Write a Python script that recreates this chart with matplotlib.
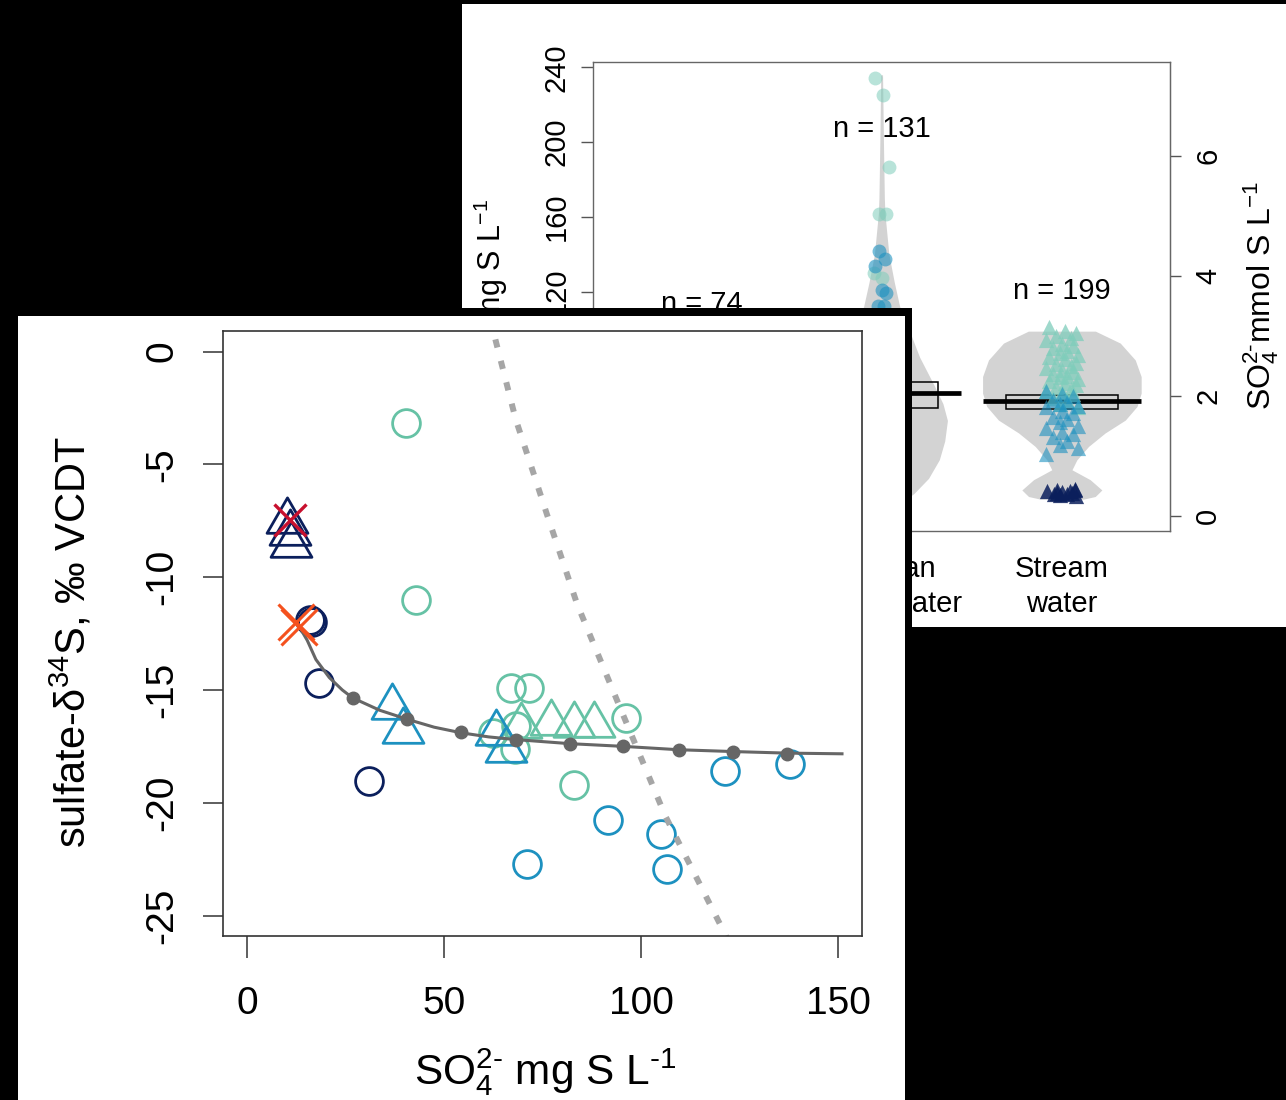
import numpy as np
import matplotlib
matplotlib.use('Agg')
import matplotlib.pyplot as plt
from matplotlib.patches import Rectangle
from matplotlib.path import Path

plt.rcParams['font.family'] = ['Liberation Sans', 'DejaVu Sans']
plt.rcParams['mathtext.fontset'] = 'custom'
plt.rcParams['mathtext.rm'] = 'Liberation Sans'
plt.rcParams['mathtext.it'] = 'Liberation Sans:italic'
plt.rcParams['mathtext.bf'] = 'Liberation Sans:bold'

W, H = 1286, 1100   # output size in pixels (dpi 100)

# ---------------- back panel (violins) ----------------
groups = ['Hillslope\ngroundwater', 'Riparian\ngroundwater', 'Stream\nwater']
n_labels = ['n = 74', 'n = 131', 'n = 199']
mg_per_mmol = 32.06

# violin outlines: level (mg S/L) and half width (group units)
rip_violin_mg = [4, 6, 12, 20, 30, 40, 51, 60, 70, 85, 100, 112, 125, 140, 150, 162, 170, 200, 236]
rip_violin_hw = [0.0, 0.10, 0.18, 0.26, 0.32, 0.35, 0.365, 0.34, 0.29, 0.21, 0.15, 0.10, 0.07, 0.04, 0.03, 0.018, 0.015, 0.01, 0.005]
stream_violin_mg = [8.9, 10.3, 13.8, 19.3, 24.6, 29.9, 37.1, 44.3, 51.2, 58.5, 65.6, 74.5, 83.4, 92.4, 98.8]
stream_violin_hw = [0.12, 0.185, 0.222, 0.157, 0.056, 0.083, 0.148, 0.24, 0.352, 0.417, 0.44, 0.44, 0.407, 0.324, 0.186]

# boxes: q1, median, q3 (mg S/L)
rip_box = (57.6, 65.7, 71.4)
stream_box = (57.3, 61.2, 64.8)

# riparian groundwater points (mg S/L)
rip_teal = [234.5, 225.0, 186.7, 161.7, 161.7, 130.0, 127.0]
rip_blue = [141.5, 137.6, 133.5, 121.0, 119.2, 112.0, 112.0]

# stream water points (mg S/L)
stream_teal = [101, 99, 98, 96, 95, 94, 92, 91, 90, 88, 87, 86, 85, 84, 82, 81, 80, 79,
               78, 77, 76, 75, 74, 73, 72, 71, 70, 69, 68, 67, 66, 65, 63, 62, 60, 58]
stream_blue = [67, 65, 64, 62, 61, 60, 59, 58, 56, 55, 53, 52, 50, 48, 47, 45, 44, 42, 40, 38, 36, 33]
stream_navy = [14.5, 14.0, 13.4, 13.0, 12.6, 12.2, 11.8, 11.4, 11.0, 10.6, 13.7, 12.4]

# ---------------- front panel (d34S vs sulfate) ----------------
teal_circ_x = [40.4, 43.0, 66.9, 71.5, 96.1, 83.0, 62.5, 68.2, 68.0]
teal_circ_y = [-3.16, -11.0, -14.9, -14.9, -16.24, -19.2, -16.9, -16.6, -17.6]
teal_tri_x = [69.5, 77.1, 83.0, 88.1]
teal_tri_y = [-16.6, -16.47, -16.54, -16.57]
blue_circ_x = [71.0, 91.7, 105.0, 106.6, 121.3, 137.7]
blue_circ_y = [-22.7, -20.75, -21.4, -22.96, -18.6, -18.3]
blue_tri_x = [36.9, 39.5, 63.1, 65.7]
blue_tri_y = [-15.77, -16.8, -16.9, -17.65]
navy_circ_x = [15.9, 16.4, 18.3, 31.0]
navy_circ_y = [-11.9, -12.0, -14.7, -19.05]
navy_tri_x = [10.2, 10.8, 11.2]
navy_tri_y = [-7.5, -8.03, -8.56]
red_x = [10.8]
red_y = [-7.45]
orange_x = [12.4, 13.3]
orange_y = [-12.0, -12.2]

# mixing curve and its marked steps
mix_x = [13.3, 15.3, 17.5, 20.9, 24.2, 26.8, 33.7, 40.7, 47.5, 54.4, 61.3, 68.2, 81.9, 95.4, 109.6, 123.3, 137.1, 151.0]
mix_y = [-12.2, -12.8, -13.65, -14.45, -15.0, -15.35, -15.9, -16.3, -16.65, -16.9, -17.08, -17.2, -17.38, -17.5, -17.65, -17.73, -17.8, -17.83]
mix_dot_x = [26.8, 40.7, 54.4, 68.2, 81.9, 95.4, 109.6, 123.3, 137.1]
mix_dot_y = [-15.36, -16.3, -16.88, -17.2, -17.38, -17.5, -17.68, -17.75, -17.82]

# dotted curve
dot_x = [61.8, 63.1, 68.2, 73.3, 76.1, 83.8, 95.2, 106.2, 121.4, 123.0]
dot_y = [1.5, 0.5, -3.0, -5.7, -7.2, -11.2, -16.0, -20.6, -25.85, -26.5]

TEAL = '#66C2A5'
BLUE = '#1D91C0'
NAVY = '#0B1F5C'
JIT = [-0.07, 0.02, 0.08, -0.03, 0.05, -0.09, 0.0, 0.06, -0.05, 0.03, -0.01, 0.09]


def px_rect(l, t, r, b):
    # pixel box (left, top, right, bottom) -> figure fraction
    return [l / W, 1 - b / H, (r - l) / W, (b - t) / H]


def violin(ax, x0, levels, halfw):
    levels = np.asarray(levels)
    halfw = np.asarray(halfw)
    ax.fill_betweenx(levels, x0 - halfw, x0 + halfw, color='#D3D3D3', lw=0, zorder=1)


def box(ax, x0, stats, bw=0.31, mw=0.44):
    q1, med, q3 = stats
    ax.add_patch(Rectangle((x0 - bw, q1), 2 * bw, q3 - q1, fill=False, ec='black', lw=1.1, zorder=2))
    ax.plot([x0 - mw, x0 + mw], [med, med], color='black', lw=3.4, solid_capstyle='butt', zorder=2)


fig = plt.figure(figsize=(W / 100, H / 100), dpi=100, facecolor='black')

# back paper
fig.add_artist(Rectangle((462 / W, 1 - 627 / H), (W - 462) / W, (627 - 4) / H,
                         transform=fig.transFigure, fc='white', ec='none', zorder=0.1))

bx = fig.add_axes(px_rect(593.3, 61.7, 1170, 530.7), zorder=0.2)
bx.set_facecolor('white')
bx.set_xlim(0.4, 3.6)
bx.set_ylim(-8, 243)

violin(bx, 2, rip_violin_mg, rip_violin_hw)
violin(bx, 3, stream_violin_mg, stream_violin_hw)
box(bx, 2, rip_box)
box(bx, 3, stream_box)

bx.scatter(2 + np.resize(JIT, len(rip_teal)) * 0.5, rip_teal, s=100, color='#7FCDBB', alpha=0.55, lw=0, zorder=3)
bx.scatter(2 + np.resize(JIT[3:], len(rip_blue)) * 0.4, rip_blue, s=100, color=BLUE, alpha=0.6, lw=0, zorder=3)
bx.scatter(3 + np.resize(JIT, len(stream_teal)), stream_teal, s=120, marker='^', color='#7FCDBB', alpha=0.75, lw=0, zorder=3)
bx.scatter(3 + np.resize(JIT[5:], len(stream_blue)), stream_blue, s=120, marker='^', color=BLUE, alpha=0.6, lw=0, zorder=3)
bx.scatter(3 + np.resize(JIT[2:], len(stream_navy)) * 0.9, stream_navy, s=120, marker='^', color=NAVY, alpha=0.85, lw=0, zorder=3)

bx.text(1, 109, n_labels[0], ha='center', va='baseline', fontsize=21, zorder=4)
bx.text(2, 202.5, n_labels[1], ha='center', va='baseline', fontsize=21, zorder=4)
bx.text(3, 115.8, n_labels[2], ha='center', va='baseline', fontsize=21, zorder=4)

bx.set_xticks([1, 2, 3], labels=groups, fontsize=21, linespacing=1.3)
bx.tick_params(axis='x', length=0, pad=17.5)
mg_ticks = [0, 40, 80, 120, 160, 200, 240]
bx.set_yticks(mg_ticks, labels=[str(t) for t in mg_ticks], rotation=90, va='center', fontsize=21)
bx.tick_params(axis='y', length=8.6, pad=7.7, width=1, color='#555555')
for s in bx.spines.values():
    s.set_color('#666666')
    s.set_linewidth(1.0)
bx.set_ylabel(r'SO$_4^{2\text{-}}$ mg S L$^{-1}$', fontsize=22)
bx.yaxis.set_label_coords(-0.142, 0.50)

sec = bx.secondary_yaxis('right', functions=(lambda v: v / mg_per_mmol, lambda v: v * mg_per_mmol))
sec.set_yticks([0, 2, 4, 6], labels=['0', '2', '4', '6'], rotation=90, va='center', fontsize=21)
sec.tick_params(length=8, pad=9.4, width=1, color='#555555')
sec.spines['right'].set_color('#666666')
fig.text(1261 / W, 1 - 295 / H, r'SO$_4^{2\text{-}}$mmol S L$^{-1}$', rotation=90,
         ha='center', va='center', fontsize=23)

# front paper with black frame
fig.add_artist(Rectangle((0, 0), 912 / W, 1 - 308 / H, transform=fig.transFigure,
                         fc='black', ec='none', zorder=0.3))
fig.add_artist(Rectangle((18.3 / W, 0), (905 - 18.3) / W, 1 - 316 / H, transform=fig.transFigure,
                         fc='white', ec='none', zorder=0.4))

ax = fig.add_axes(px_rect(223.3, 330.7, 861.7, 935.8), zorder=0.5)
ax.set_facecolor('white')
ax.set_xlim(-6, 156)
ax.set_ylim(-25.9, 0.93)

tri = Path([(0, 1), (-0.866, -0.5), (0.866, -0.5), (0, 1)], closed=True)
open_kw = dict(linestyle='none', mfc='none', mew=2.0)

ax.plot(teal_circ_x, teal_circ_y, marker='o', ms=20, mec=TEAL, **open_kw)
ax.plot(blue_circ_x, blue_circ_y, marker='o', ms=20, mec=BLUE, **open_kw)
ax.plot(navy_circ_x, navy_circ_y, marker='o', ms=20, mec=NAVY, **open_kw)
ax.plot(teal_tri_x, teal_tri_y, marker=tri, ms=34, mec=TEAL, **open_kw)
ax.plot(blue_tri_x, blue_tri_y, marker=tri, ms=34, mec=BLUE, **open_kw)
ax.plot(navy_tri_x, navy_tri_y, marker=tri, ms=34, mec=NAVY, **open_kw)

ax.plot(dot_x, dot_y, color='#A6A6A6', lw=4.3, dashes=(1.4, 2.3), dash_capstyle='butt')
ax.plot(mix_x, mix_y, color='#666666', lw=2.2)
ax.plot(mix_dot_x, mix_dot_y, linestyle='none', marker='o', ms=9, color='#666666')

ax.plot(red_x, red_y, linestyle='none', marker='x', ms=23, mew=2.4, color='#C8102E')
ax.plot(orange_x, orange_y, linestyle='none', marker='x', ms=26, mew=2.2, color='#F4511E')

x_ticks = [0, 50, 100, 150]
y_ticks = [0, -5, -10, -15, -20, -25]
ax.set_xticks(x_ticks, labels=[str(t) for t in x_ticks], fontsize=28)
ax.set_yticks(y_ticks, labels=[str(t) for t in y_ticks], rotation=90, va='center', fontsize=28)
ax.tick_params(direction='out', width=1.1, color='#333333')
ax.tick_params(axis='x', length=15.8, pad=20.7)
ax.tick_params(axis='y', length=14.4, pad=16.5)
for s in ax.spines.values():
    s.set_color('#333333')
    s.set_linewidth(1.2)

fig.text(71.5 / W, 1 - 642 / H, r'sulfate-δ$^{34}$S, ‰ VCDT', rotation=90,
         ha='center', va='center', fontsize=30)
fig.text(545 / W, 1 - 1085 / H, r'SO$_4^{2\text{-}}$ mg S L$^{\text{-}1}$', ha='center', va='baseline', fontsize=30.5)

plt.savefig('out.png', dpi=100, facecolor='black')
